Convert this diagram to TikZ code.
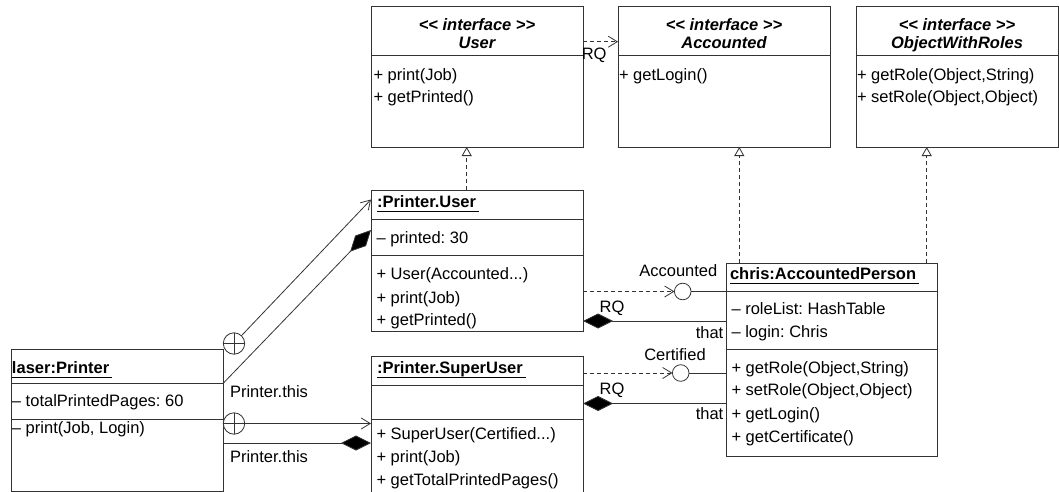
\documentclass[tikz,border=0pt]{standalone}
\usepackage{fontspec}
\newfontfamily\uf{Liberation Sans}
\usetikzlibrary{arrows.meta}
\frenchspacing
\newcommand\ulc[1]{\setbox0=\hbox{#1}\rlap{\rule[-4.5pt]{\dimexpr\wd0+3pt\relax}{1.1pt}}\box0}
\newcommand\umlbox[5]{\node[cls,anchor=north west,minimum width={#4-#2},minimum height={#5-#3}] (#1) at (#2,#3) {};}
\newcommand\umlsep[2]{\draw[ln] (#1.west |- 0,#2) -- (#1.east |- 0,#2);}
\newcommand\umltxt[4]{\node[anchor=base west] (#1) at ({#2},{#3+5.9}) {#4};}
\newcommand\umlctxt[4]{\node[anchor=base] (#1) at ({#2},{#3+5.9}) {#4};}
\newcommand\umlrtxt[4]{\node[anchor=base east] (#1) at ({#2},{#3+5.9}) {#4};}
\begin{document}
\begin{tikzpicture}[x=1pt,y=-1pt,
  every node/.style={font=\uf\fontsize{16.5}{19}\selectfont\frenchspacing,inner sep=0pt,outer sep=0pt},
  ln/.style={draw=black!80,line width=0.8pt},
  cls/.style={ln,fill=white,rectangle},
  assoc/.style={ln},
  dep/.style={ln,dash pattern=on 4pt off 3pt},
  barb/.style={-{Straight Barb[length=9pt,width=11pt]}},
  comp/.style={-{Diamond[length=30pt,width=15pt,fill=black]}},
  real/.style={dep,-{Triangle[open,length=9pt,width=10pt,fill=white]}},
  plus/.style={circle,ln,fill=white,minimum size=21.4pt,
    path picture={\draw[black!80,line width=0.8pt]
      (path picture bounding box.north) -- (path picture bounding box.south)
      (path picture bounding box.west) -- (path picture bounding box.east);}},
  lolli/.style={circle,ln,fill=white,minimum size=16.6pt},
  hdr/.style={font=\uf\fontsize{16.5}{19}\selectfont\bfseries\itshape}]
\useasboundingbox (0,0) rectangle (1059,492);

% ---- interface boxes
\umlbox{iuser}{371}{6}{583}{147}
\umlsep{iuser}{55}
\node[hdr,anchor=base] (iuserh1) at (477,30.9) {<< interface >>};
\node[hdr,anchor=base] (iuserh2) at (477,49) {User};
\umltxt{iuserm1}{373.5}{75}{+ print(Job)}
\umltxt{iuserm2}{373.5}{97}{+ getPrinted()}

\umlbox{iacc}{618}{6}{830}{147}
\umlsep{iacc}{55}
\node[hdr,anchor=base] (iacch1) at (724,30.9) {<< interface >>};
\node[hdr,anchor=base] (iacch2) at (724,49) {Accounted};
\umltxt{iaccm1}{619}{75}{+ getLogin()}

\umlbox{iowr}{856}{6}{1058}{147}
\umlsep{iowr}{55}
\node[hdr,anchor=base] (iowrh1) at (957,30.9) {<< interface >>};
\node[hdr,anchor=base] (iowrh2) at (957,49) {ObjectWithRoles};
\umltxt{iowrm1}{857}{75}{+ getRole(Object,String)}
\umltxt{iowrm2}{857}{97}{+ setRole(Object,Object)}

% ---- :Printer.User
\umlbox{pu}{371}{190}{583}{331}
\umlsep{pu}{219}
\umlsep{pu}{255}
\umltxt{put}{377}{202}{\bfseries\ulc{:Printer.User}}
\umltxt{pua1}{376.5}{238}{– printed: 30}
\umltxt{pum1}{376.5}{273.3}{+ User(Accounted...)}
\umltxt{pum2}{376.5}{297.3}{+ print(Job)}
\umltxt{pum3}{376.5}{320}{+ getPrinted()}

% ---- :Printer.SuperUser
\umlbox{psu}{371}{356}{583}{498}
\umlsep{psu}{385}
\umlsep{psu}{419.5}
\umltxt{psut}{377}{367.7}{\bfseries\ulc{:Printer.SuperUser}}
\umltxt{psum1}{376.5}{433.3}{+ SuperUser(Certified...)}
\umltxt{psum2}{376.5}{456.7}{+ print(Job)}
\umltxt{psum3}{376.5}{480}{+ getTotalPrintedPages()}

% ---- laser:Printer
\umlbox{lp}{11}{349.3}{223}{491}
\umlsep{lp}{383.5}
\umlsep{lp}{419.5}
\umltxt{lpt}{12}{368}{\bfseries\ulc{laser:Printer}}
\umltxt{lpa1}{12}{401}{– totalPrintedPages: 60}
\umltxt{lpm1}{12}{427.5}{– print(Job, Login)}

% ---- chris:AccountedPerson
\umlbox{cap}{726}{263}{937}{456}
\umlsep{cap}{291.5}
\umlsep{cap}{349}
\umltxt{capt}{730}{274}{\bfseries\ulc{chris:AccountedPerson}}
\umltxt{capa1}{731.5}{308.7}{– roleList: HashTable}
\umltxt{capa2}{731.5}{331.7}{– login: Chris}
\umltxt{capm1}{731.5}{367.3}{+ getRole(Object,String)}
\umltxt{capm2}{731.5}{390}{+ setRole(Object,Object)}
\umltxt{capm3}{731.5}{414}{+ getLogin()}
\umltxt{capm4}{731.5}{437}{+ getCertificate()}

% ---- realizations
\draw[real] (pu.north -| 466.7,0) -- (iuser.south -| 466.7,0);
\draw[real] (cap.north -| 739.3,0) -- (iacc.south -| 739.3,0);
\draw[real] (cap.north -| 926.7,0) -- (iowr.south -| 926.7,0);

% ---- dependency User -> Accounted
\draw[dep,barb] (iuser.east |- 0,41.7) -- (iacc.west |- 0,41.7);
\umlctxt{rq0}{594.2}{53.3}{RQ}

% ---- inner class links
\node[plus] (c1) at (234,343.5) {};
\draw[assoc,barb] (c1) -- (pu.west |- 0,199.5);
\draw[assoc,comp] (lp.east |- 0,383.5) -- (pu.west |- 0,230);
\umltxt{pthis1}{230}{391.7}{Printer.this}

\node[plus] (c2) at (234,423.5) {};
\draw[assoc,barb] (c2) -- (psu.west |- 0,423.5);
\draw[assoc,comp] (lp.east |- 0,443) -- (psu.west |- 0,443);
\umltxt{pthis2}{230}{456.7}{Printer.this}

% ---- lollipops and compositions
\node[lolli] (l1) at (682.7,291.5) {};
\draw[dep,barb] (pu.east |- l1) -- (l1);
\draw[assoc] (l1) -- (cap.west |- l1);
\umlctxt{accl}{678.3}{270.7}{Accounted}

\draw[assoc,comp] (cap.west |- 0,321) -- (pu.east |- 0,321);
\umlctxt{rq1}{612}{306.7}{RQ}
\umlrtxt{that1}{723.3}{332.7}{that}

\node[lolli] (l2) at (680.7,373) {};
\draw[dep,barb] (psu.east |- l2) -- (l2);
\draw[assoc] (l2) -- (cap.west |- l2);
\umlctxt{certl}{675}{354.3}{Certified}

\draw[assoc,comp] (cap.west |- 0,403.5) -- (psu.east |- 0,403.5);
\umlctxt{rq2}{612}{388.3}{RQ}
\umlrtxt{that2}{723.3}{414}{that}
\end{tikzpicture}
\end{document}
